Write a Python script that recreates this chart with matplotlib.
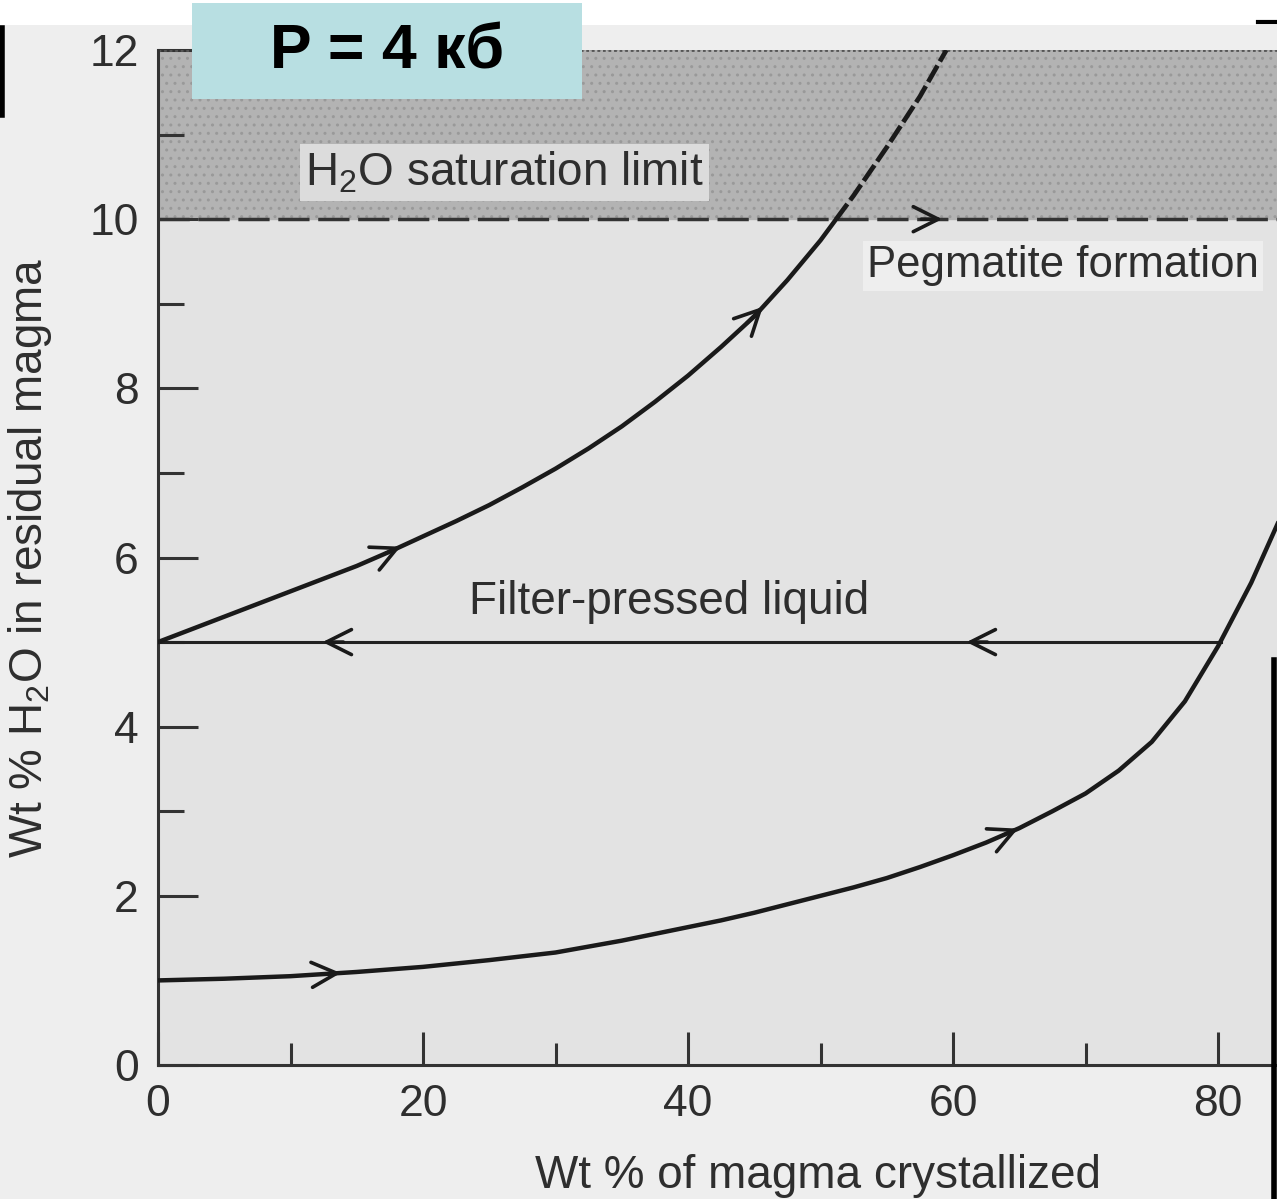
import numpy as np
import matplotlib
matplotlib.use("Agg")
import matplotlib.pyplot as plt
from matplotlib.patches import Rectangle
from matplotlib.ticker import MultipleLocator

plt.rcParams['font.family'] = ['Liberation Sans', 'DejaVu Sans']
plt.rcParams['mathtext.fontset'] = 'custom'
plt.rcParams['mathtext.rm'] = 'Liberation Sans'
plt.rcParams['mathtext.it'] = 'Liberation Sans:italic'
plt.rcParams['mathtext.bf'] = 'Liberation Sans:bold'

# curve values
upper_x = [0, 2.5, 5, 7.5, 10, 12.5, 15, 17.5, 20, 22.5, 25, 27.5, 30, 32.5, 35, 37.5,
           40, 42.5, 45, 47.5, 50, 52.5, 55, 57.5, 59.5]
upper_y = [5.0, 5.15, 5.3, 5.45, 5.6, 5.75, 5.9, 6.07, 6.25, 6.43, 6.62, 6.83, 7.05, 7.29,
           7.55, 7.84, 8.15, 8.49, 8.85, 9.28, 9.75, 10.28, 10.85, 11.45, 12.0]
lower_x = [0, 2.5, 5, 7.5, 10, 12.5, 15, 17.5, 20, 22.5, 25, 27.5, 30, 32.5, 35, 37.5, 40,
           42.5, 45, 47.5, 50, 52.5, 55, 57.5, 60, 62.5, 65, 67.5, 70, 72.5, 75, 77.5, 80,
           82.5, 84.5]
lower_y = [1.0, 1.01, 1.02, 1.035, 1.05, 1.075, 1.1, 1.13, 1.16, 1.2, 1.24, 1.285, 1.33, 1.4,
           1.47, 1.55, 1.63, 1.71, 1.8, 1.9, 2.0, 2.1, 2.21, 2.34, 2.48, 2.63, 2.8, 3.0, 3.21,
           3.48, 3.82, 4.3, 4.95, 5.7, 6.4]
filter_y = 5.0
filter_x = [0, 80.2]
saturation_y = 10.0

upper_arrows = [18.5, 45.8]
lower_arrows = [14.0, 65.1]
filter_arrows = [12.2, 60.8]
pegmatite_arrow = 59.4

xticks = [0, 20, 40, 60, 80]
yticks = [0, 2, 4, 6, 8, 10, 12]

ink = '#1a1a1a'
grey_text = '#2e2e2e'

fig = plt.figure(figsize=(12.77, 11.99), dpi=100)
fig.patch.set_facecolor('#eeeeee')
fig.patches.append(Rectangle((0, 1 - 25 / 1199), 1, 25 / 1199, transform=fig.transFigure,
                             facecolor='white', edgecolor='none', zorder=0))
ax = fig.add_axes([158 / 1277, 1 - 1065 / 1199, 1119 / 1277, 1015 / 1199])
ax.set_xlim(0, 84.45)
ax.set_ylim(0, 12)
ax.set_facecolor('#e3e3e3')
ax.axhspan(10, 12, color='#b3b3b3', zorder=0)
ax.axhspan(10, 12, facecolor='none', edgecolor='#999999', hatch='..', lw=0, zorder=0)

for s in ['top', 'right']:
    ax.spines[s].set_visible(False)
for s in ['left', 'bottom']:
    ax.spines[s].set_color('#333333')
    ax.spines[s].set_linewidth(2.2)
ax.axhline(12, color='#555555', lw=2, ls=(0, (1, 1)))

ax.set_xticks(xticks)
ax.set_yticks(yticks)
ax.xaxis.set_minor_locator(MultipleLocator(10))
ax.yaxis.set_minor_locator(MultipleLocator(1))
ax.tick_params(axis='both', which='major', direction='in', labelsize=32,
               colors='#333333', labelcolor=grey_text, width=2.2)
ax.tick_params(axis='y', which='major', length=29, pad=14)
ax.tick_params(axis='x', which='major', length=24, pad=14)
ax.tick_params(axis='y', which='minor', direction='in', length=19, width=2.2, colors='#333333')
ax.tick_params(axis='x', which='minor', direction='in', length=16, width=2.2, colors='#333333')

ax.set_xlabel('Wt % of magma crystallized', fontsize=33, color=grey_text)
ax.xaxis.set_label_coords(0.59, -0.088)
ax.set_ylabel('Wt % H$_2$O in residual magma', fontsize=33, color=grey_text)
ax.yaxis.set_label_coords(-0.093, 0.5)

# saturation limit
ax.axhline(saturation_y, color='#333333', lw=2.5, ls=(0, (9, 2.5)), zorder=2)

# curves
ux = np.array(upper_x)
uy = np.array(upper_y)
x_sat = np.interp(saturation_y, uy, ux)
solid = uy < saturation_y
ax.plot(ux[solid].tolist() + [x_sat], uy[solid].tolist() + [saturation_y],
        color=ink, lw=3.2, zorder=4, solid_capstyle='round')
ax.plot([x_sat] + ux[~solid].tolist(), [saturation_y] + uy[~solid].tolist(),
        color=ink, lw=3.4, ls=(0, (4, 1)), zorder=4)
ax.plot(lower_x, lower_y, color=ink, lw=3.2, zorder=4)
ax.plot(filter_x, [filter_y, filter_y], color='#222222', lw=2.2, zorder=3)

aprops = dict(arrowstyle='->,head_length=1.8,head_width=0.9', color=ink, lw=2.6)


def curve_arrow(xs, ys, x0, back):
    tip = (x0, np.interp(x0, xs, ys))
    tail = (x0 - back, np.interp(x0 - back, xs, ys))
    ax.annotate('', xy=tip, xytext=tail, arrowprops=aprops, zorder=5)


for xa in upper_arrows:
    curve_arrow(upper_x, upper_y, xa, 1.5)
for xa in lower_arrows:
    curve_arrow(lower_x, lower_y, xa, 1.5)
for xa in filter_arrows:
    ax.annotate('', xy=(xa, filter_y), xytext=(xa + 2.0, filter_y), arrowprops=aprops, zorder=5)
ax.annotate('', xy=(pegmatite_arrow, saturation_y), xytext=(pegmatite_arrow - 2.0, saturation_y),
            arrowprops=aprops, zorder=5)

# labels inside the plot
ax.text(11.1, 10.55, 'H$_2$O saturation limit', fontsize=33, color=grey_text, va='center',
        bbox=dict(facecolor='#dcdcdc', edgecolor='none', pad=4), zorder=3)
ax.text(53.5, 9.45, 'Pegmatite formation', fontsize=31.5, color=grey_text, va='center',
        bbox=dict(facecolor='#eeeeee', edgecolor='none', pad=3), zorder=3)
ax.text(23.5, 5.47, 'Filter-pressed liquid', fontsize=33, color=grey_text, va='center', zorder=3)

# title box
fig.patches.append(Rectangle((192 / 1277, 1 - 99 / 1199), 390 / 1277, 96 / 1199,
                             transform=fig.transFigure, facecolor='#b8dfe2',
                             edgecolor='none', zorder=5))
fig.text(387 / 1277, 1 - 52 / 1199, 'P = 4 кб', fontsize=45, fontweight='bold',
         ha='center', va='center', color='black', zorder=6)

# scan border bits
fig.add_artist(plt.Line2D([2 / 1277, 2 / 1277], [1 - 28 / 1199, 1 - 115 / 1199],
                          transform=fig.transFigure, color='black', lw=4))
fig.add_artist(plt.Line2D([1274 / 1277, 1274 / 1277], [1 - 660 / 1199, 0],
                          transform=fig.transFigure, color='black', lw=4))
fig.add_artist(plt.Line2D([1258 / 1277, 1277 / 1277], [1 - 22 / 1199, 1 - 22 / 1199],
                          transform=fig.transFigure, color='black', lw=3))

fig.savefig('out.png', dpi=100, facecolor=fig.get_facecolor())
